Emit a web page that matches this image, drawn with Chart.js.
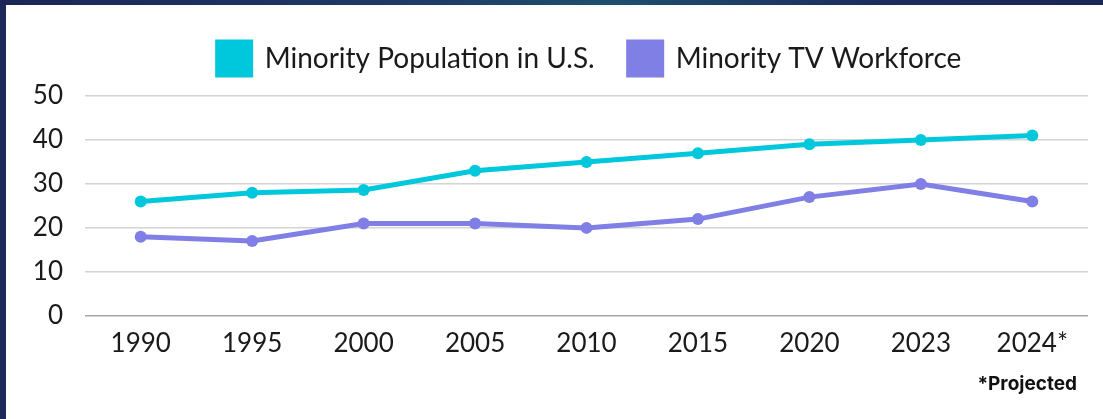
<!DOCTYPE html>
<html>
<head>
<meta charset="utf-8">
<script src="https://cdn.jsdelivr.net/npm/chart.js@4/dist/chart.umd.min.js"></script>
<style>
    html, body { margin: 0; padding: 0; }
    body {
        width: 1103px;
        height: 419px;
        overflow: hidden;
        background: #1c2857;
        position: relative;
    }
    .topband {
        position: absolute; left: 0; top: 0; width: 1103px; height: 5px;
        background: linear-gradient(90deg, #1c2656 0%, #1e3d66 40%, #1f4f6e 55%, #1c2c5c 80%, #1c2656 100%);
    }
    .panel {
        position: absolute; left: 6px; top: 5px; width: 1097px; height: 414px;
        background: #ffffff;
    }
</style>
</head>
<body>
<div class="topband"></div>
<div class="panel">
    <canvas id="trend-chart" width="1097" height="414"></canvas>
</div>
<script>
// datos
const years = ['1990', '1995', '2000', '2005', '2010', '2015', '2020', '2023', '2024*'];
const populationShare = [26, 28, 28.6, 33, 35, 37, 39, 40, 41];
const workforceShare = [18, 17, 21, 21, 20, 22, 27, 30, 26];
const yTicks = [0, 10, 20, 30, 40, 50];
const footnote = '*Projected';

const FONT = "'Lato', 'Inter', sans-serif";

// leyenda: altura fija y centrada sobre el área del gráfico
const legendLayoutPlugin = {
    id: 'legendLayout',
    beforeInit: function(chart) {
        const originalFit = chart.legend.fit;
        chart.legend.fit = function() {
            originalFit.call(this);
            this.height = 88;
        };
    },
    afterLayout: function(chart) {
        chart.legend.left = chart.chartArea.left + 6;
        chart.legend.right = chart.chartArea.right;
    }
};

// nota al pie, alineada a la derecha bajo el eje
const footnotePlugin = {
    id: 'footnote',
    afterDraw: function(chart) {
        const c = chart.ctx;
        c.save();
        c.font = "bold 19px 'Inter', sans-serif";
        c.fillStyle = '#111111';
        c.textAlign = 'right';
        c.textBaseline = 'alphabetic';
        c.fillText(footnote, chart.chartArea.right - 11, 385);
        c.restore();
    }
};

const ctx = document.getElementById('trend-chart').getContext('2d');

new Chart(ctx, {
    type: 'line',
    data: {
        labels: years,
        datasets: [
            {
                label: 'Minority Population in U.S.',
                data: populationShare,
                borderColor: '#00c8dc',
                backgroundColor: '#00c8dc',
                borderWidth: 5,
                pointRadius: 6,
                pointHoverRadius: 6,
                pointBorderWidth: 0,
                tension: 0
            },
            {
                label: 'Minority TV Workforce',
                data: workforceShare,
                borderColor: '#7f7fe6',
                backgroundColor: '#7f7fe6',
                borderWidth: 5,
                pointRadius: 6,
                pointHoverRadius: 6,
                pointBorderWidth: 0,
                tension: 0
            }
        ]
    },
    options: {
        responsive: false,
        animation: false,
        layout: {
            padding: { left: 0, right: 15, top: 3, bottom: 48 }
        },
        plugins: {
            legend: {
                position: 'top',
                labels: {
                    boxWidth: 33,
                    boxHeight: 33,
                    padding: 34,
                    color: '#1a1a1a',
                    font: { family: FONT, size: 28 }
                }
            },
            tooltip: { enabled: false }
        },
        scales: {
            x: {
                offset: true,
                grid: { display: false, drawTicks: false },
                border: { display: false },
                ticks: {
                    color: '#1a1a1a',
                    padding: 12,
                    font: { family: FONT, size: 26 }
                }
            },
            y: {
                min: 0,
                max: 50,
                afterFit: function(scale) { scale.width = 79; },
                afterBuildTicks: function(scale) {
                    scale.ticks = yTicks.map(v => ({ value: v }));
                },
                grid: {
                    drawTicks: false,
                    lineWidth: 1.5,
                    color: function(c) { return c.tick && c.tick.value === 0 ? '#a6a6a6' : '#d4d4d4'; }
                },
                border: { display: false },
                ticks: {
                    color: '#1a1a1a',
                    padding: 22,
                    font: { family: FONT, size: 26 }
                }
            }
        }
    },
    plugins: [legendLayoutPlugin, footnotePlugin]
});
</script>
</body>
</html>
